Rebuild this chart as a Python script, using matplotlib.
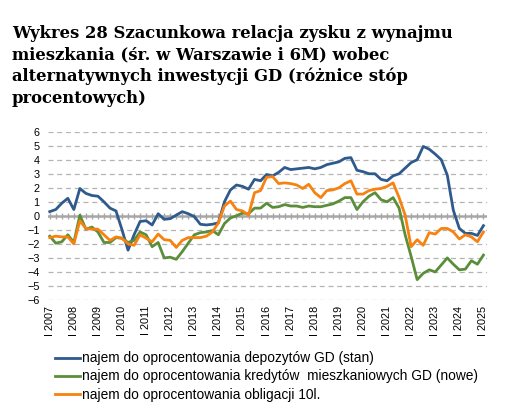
import numpy as np
import matplotlib.pyplot as plt

# quarterly data, I 2007 .. I 2025
years = list(range(2007, 2026))
tick_labels = ["I " + str(y) for y in years]

deposits = [0.3, 0.45, 0.9, 1.25, 0.45, 1.95, 1.6, 1.45, 1.4, 1.0, 0.55, 0.35,
            -1.0, -2.45, -1.35, -0.4, -0.35, -0.65, 0.15, -0.25, -0.2, 0.05, 0.3, 0.15,
            -0.05, -0.6, -0.65, -0.6, -0.5, 1.0, 1.85, 2.2, 2.1, 1.9, 2.6, 2.5,
            2.95, 2.85, 3.1, 3.45, 3.3, 3.35, 3.4, 3.45, 3.35, 3.45, 3.65, 3.75,
            3.85, 4.1, 4.15, 3.25, 3.15, 3.0, 3.0, 2.6, 2.5, 2.85, 3.0, 3.4,
            3.8, 4.0, 4.95, 4.75, 4.4, 4.0, 2.9, 0.4, -0.9, -1.25, -1.25, -1.4,
            -0.7]

mortgages = [-1.45, -1.95, -1.85, -1.35, -1.9, 0.05, -0.95, -0.8, -1.15, -1.9, -1.9, -1.55,
             -1.6, -1.9, -1.75, -1.15, -1.35, -2.2, -1.9, -3.0, -2.95, -3.1, -2.55, -1.95,
             -1.35, -1.2, -1.15, -1.05, -1.35, -0.55, -0.15, 0.0, 0.2, 0.15, 0.55, 0.55,
             0.9, 0.6, 0.65, 0.8, 0.7, 0.7, 0.6, 0.7, 0.65, 0.65, 0.75, 0.85,
             1.05, 1.3, 1.3, 0.45, 1.0, 1.4, 1.65, 1.15, 1.0, 1.3, 0.55, -1.35,
             -2.9, -4.55, -4.1, -3.85, -4.0, -3.5, -3.0, -3.45, -3.85, -3.8, -3.2, -3.45,
             -2.8]

bonds = [-1.55, -1.45, -1.5, -1.5, -2.0, -0.35, -0.9, -0.95, -0.95, -1.35, -1.75, -1.5,
         -1.6, -2.0, -2.1, -1.35, -1.6, -1.85, -1.3, -1.7, -1.75, -2.25, -1.75, -1.55,
         -1.55, -1.55, -1.45, -1.15, -0.5, 0.7, 1.05, 0.45, 0.35, 0.05, 1.65, 1.8,
         2.75, 2.8, 2.3, 2.35, 2.3, 2.2, 1.95, 2.25, 1.65, 1.3, 1.8, 1.85,
         2.0, 2.3, 2.5, 1.55, 1.55, 1.8, 1.9, 1.95, 2.1, 2.35, 1.3, 0.05,
         -2.2, -1.7, -2.1, -1.2, -1.3, -0.9, -0.9, -1.15, -1.65, -1.35, -1.5, -1.85,
         -1.15]

labels = ["najem do oprocentowania depozytów GD (stan)",
          "najem do oprocentowania kredytów  mieszkaniowych GD (nowe)",
          "najem do oprocentowania obligacji 10l."]
colors = ["#2f5a8c", "#5b8e3a", "#f7820f"]

q = np.arange(len(deposits))

plt.rcParams['font.family'] = ['Liberation Sans', 'DejaVu Sans']

fig = plt.figure(figsize=(5.1, 4.17), dpi=100)
ax = fig.add_axes([0.094, 0.2806, 0.861, 0.4036])

for yv in range(-6, 7):
    if yv != 0:
        ax.axhline(yv, color="#b4b4b4", lw=0.9, ls=(0, (4, 3)), zorder=1)
ax.axhline(0, color="#a6a6a6", lw=1.8, zorder=2)
ax.vlines(q, -0.22, 0.22, color="#a6a6a6", lw=1.0, zorder=2)

for series, c, lab in zip([deposits, mortgages, bonds], colors, labels):
    ax.plot(q, series, color=c, lw=2.0, label=lab, zorder=3)

ax.set_ylim(-6, 6)
ax.set_xlim(-0.3, 72.6)
ax.set_yticks(range(-6, 7))
ax.set_xticks(q[::4])
ax.set_xticklabels(tick_labels, rotation=90, fontsize=7.8)
ax.tick_params(axis='y', length=0, labelsize=7.8, pad=6)
ax.tick_params(axis='x', length=0, pad=4)
for s in ax.spines.values():
    s.set_visible(False)

ax.legend(loc="upper left", bbox_to_anchor=(0.016, -0.305), frameon=False,
          fontsize=9.9, handlelength=1.8, handletextpad=0.2, labelspacing=0.3,
          borderaxespad=0, borderpad=0)

title_lines = ["Wykres 28 Szacunkowa relacja zysku z wynajmu",
               "mieszkania (śr. w Warszawie i 6M) wobec",
               "alternatywnych inwestycji GD (różnice stóp",
               "procentowych)"]
for i, line in enumerate(title_lines):
    fig.text(12 / 510, 1 - (38 + 21.7 * i) / 417, line, fontsize=11.8,
             fontweight="bold", family="DejaVu Serif", va="baseline", ha="left")

fig.savefig("out.png", dpi=100)
